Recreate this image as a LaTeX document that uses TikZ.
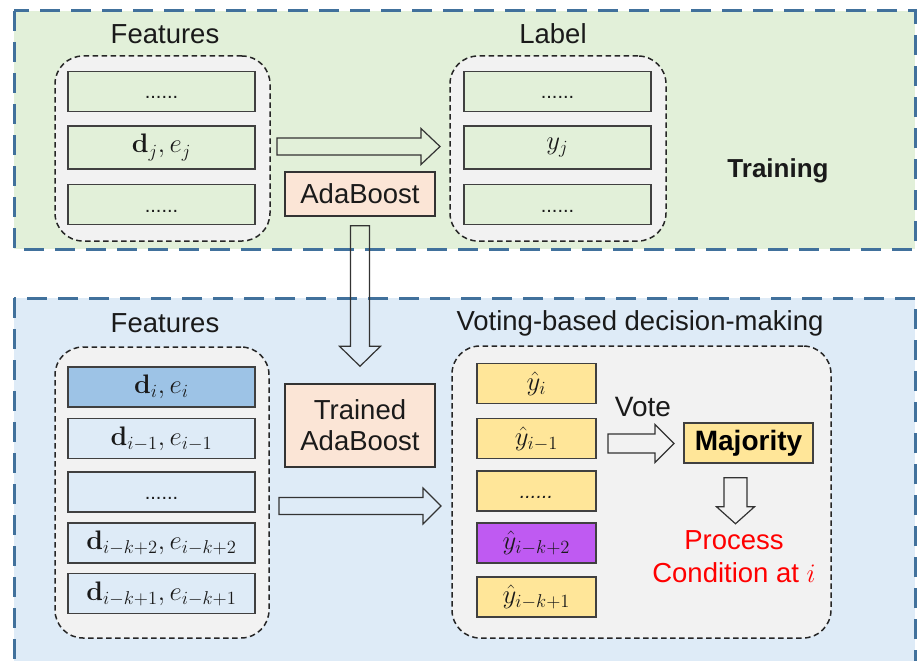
\documentclass[tikz,border=0pt]{standalone}
\usepackage{amsmath}
\usepackage{graphicx}
\usepackage[no-math]{fontspec}
\setmainfont{Liberation Sans}
\usetikzlibrary{calc}
\DeclareMathSizes{17.28}{17.28}{12}{10}
\newcommand{\mth}[1]{\scalebox{1.55}{\fontsize{17.28}{20}\selectfont$#1$}}
\definecolor{greenbg}{HTML}{E2F0D9}
\definecolor{bluebg}{HTML}{DEEBF7}
\definecolor{graybg}{HTML}{F2F2F2}
\definecolor{framecol}{HTML}{41719C}
\definecolor{peach}{HTML}{FBE5D6}
\definecolor{featblue}{HTML}{9DC3E6}
\definecolor{yel}{HTML}{FFE699}
\definecolor{purp}{HTML}{BF5AF2}
\definecolor{txt}{HTML}{1A1A1A}
\newcommand{\hblock}[5]{%
 \draw[barrow] ($(#1)+(0,-#3)$) -- ($(#2)+(-#5,-#3)$) -- ($(#2)+(-#5,-#4)$) -- (#2) -- ($(#2)+(-#5,#4)$) -- ($(#2)+(-#5,#3)$) -- ($(#1)+(0,#3)$) -- cycle;}
\newcommand{\vblock}[5]{%
 \draw[barrow] ($(#1)+(-#3,0)$) -- ($(#2)+(-#3,-#5)$) -- ($(#2)+(-#4,-#5)$) -- (#2) -- ($(#2)+(#4,-#5)$) -- ($(#2)+(#3,-#5)$) -- ($(#1)+(#3,0)$) -- cycle;}
\begin{document}
\begin{tikzpicture}[x=1pt,y=-1pt,
  rowbox/.style={draw=black!75, line width=1.3, minimum width=187, minimum height=40, inner sep=0, font=\fontsize{26}{30}\selectfont, text=txt},
  dotrow/.style={font=\fontsize{20}{24}\selectfont, text height=15pt, text depth=0pt},
  grpbox/.style={draw=black!85, dash pattern=on 5.5 off 3.5, line width=1.5, rounded corners=28, fill=graybg, inner sep=0},
  outerframe/.style={draw=framecol, line width=3, dash pattern=on 20 off 11},
  barrow/.style={draw=black!80, line width=1.2},
  lbl/.style={font=\fontsize{27.5}{31}\selectfont, text=txt, inner sep=0},
  algbox/.style={draw=black!80, line width=1.5, fill=peach, inner sep=0, font=\fontsize{27.5}{31}\selectfont, text=txt, align=center},
  ybox/.style={draw=black!75, line width=1.3, minimum width=119, minimum height=40, inner sep=0, fill=yel, font=\fontsize{26}{30}\selectfont, text=txt}
]
\useasboundingbox (0,0) rectangle (919,661);
\clip (0,0) rectangle (919,661);
\fill[white] (0,0) rectangle (919,661);
% regions
\draw[outerframe, fill=greenbg] (14,11) rectangle (915,249);
\draw[outerframe, fill=bluebg] (14,298) rectangle (915,700);

% ---------- Training ----------
\node[lbl] (tfeat) at (165,34) {Features};
\node[grpbox, minimum width=215, minimum height=185] (gfeat) at (162.5,148.5) {};
\node[rowbox, dotrow, fill=greenbg] (f1) at (161.5,91.5) {......};
\node[rowbox, fill=greenbg, minimum height=43] (f2) at (161.5,147.5) {\mth{\mathbf{d}_j, e_j}};
\node[rowbox, dotrow, fill=greenbg] (f3) at (161.5,204.5) {......};

\node[lbl] (tlab) at (553,34) {Label};
\node[grpbox, minimum width=216, minimum height=185] (glab) at (558,148.5) {};
\node[rowbox, dotrow, fill=greenbg] (l1) at (557.5,91.5) {......};
\node[rowbox, fill=greenbg, minimum height=43] (l2) at (557.5,147.5) {\mth{y_j}};
\node[rowbox, dotrow, fill=greenbg] (l3) at (557.5,204.5) {......};

\node[lbl, font=\fontsize{26}{30}\selectfont\bfseries] (train) at (778,171) {Training};

\node[algbox, minimum width=150, minimum height=44] (ada) at (360,194) {AdaBoost};

\coordinate (a1s) at (277,146.5);
\coordinate (a1t) at (440,146.5);
\hblock{a1s}{a1t}{8.5}{18}{19}

% ---------- Testing ----------
\node[lbl] (bfeat) at (165,323) {Features};
\node[grpbox, minimum width=214, minimum height=291] (gbfeat) at (162,492.5) {};
\node[rowbox, fill=featblue] (b1) at (161.5,387) {\mth{\mathbf{d}_i, e_i}};
\node[rowbox, fill=bluebg] (b2) at (161.5,438.5) {\mth{\mathbf{d}_{i-1}, e_{i-1}}};
\node[rowbox, dotrow, fill=bluebg] (b3) at (161.5,492) {......};
\node[rowbox, fill=bluebg] (b4) at (161.5,543) {\mth{\mathbf{d}_{i-k+2}, e_{i-k+2}}};
\node[rowbox, fill=bluebg] (b5) at (161.5,593.5) {\mth{\mathbf{d}_{i-k+1}, e_{i-k+1}}};

\node[algbox, minimum width=150, minimum height=83] (tada) at (360,425.5) {Trained\\AdaBoost};

\coordinate (a2s) at ($(ada.south)+(0,9)$);
\coordinate (a2t) at ($(tada.north)+(0,-17)$);
\vblock{a2s}{a2t}{9.5}{20.5}{20}

\coordinate (a3s) at (279,506);
\coordinate (a3t) at (441,506);
\hblock{a3s}{a3t}{8.5}{18}{18}

\node[lbl] (vtitle) at (640,323) {Voting-based decision-making};
\node[grpbox, minimum width=379, minimum height=292] (gvote) at (641.5,492) {};
\node[ybox] (y1) at (536.5,383.5) {\mth{\hat{y}_i}};
\node[ybox] (y2) at (536.5,438.5) {\mth{\hat{y}_{i-1}}};
\node[ybox, dotrow] (y3) at (536.5,491) {\textit{......}};
\node[ybox, fill=purp] (y4) at (536.5,543) {\mth{\hat{y}_{i-k+2}}};
\node[ybox] (y5) at (536.5,597) {\mth{\hat{y}_{i-k+1}}};

\node[lbl, font=\fontsize{28}{31}\selectfont] (vote) at (643,407) {Vote};
\node[draw=black!75, line width=1.5, fill=yel, minimum width=129, minimum height=40, inner sep=0, font=\fontsize{28}{31}\selectfont\bfseries, text=black] (maj) at (748.5,443) {Majority};

\coordinate (a4s) at (608,443.5);
\coordinate (a4t) at (674,443.5);
\hblock{a4s}{a4t}{9.5}{19}{19}

\coordinate (a5s) at ($(maj.south)+(-13,14)$);
\coordinate (a5t) at ($(maj.south)+(-13,60)$);
\vblock{a5s}{a5t}{11.5}{19}{17}

\node[lbl, text=red, align=center, font=\fontsize{27.5}{33}\selectfont] (proc) at (734,557) {Process\\Condition at \mth{i}};
\end{tikzpicture}
\end{document}
